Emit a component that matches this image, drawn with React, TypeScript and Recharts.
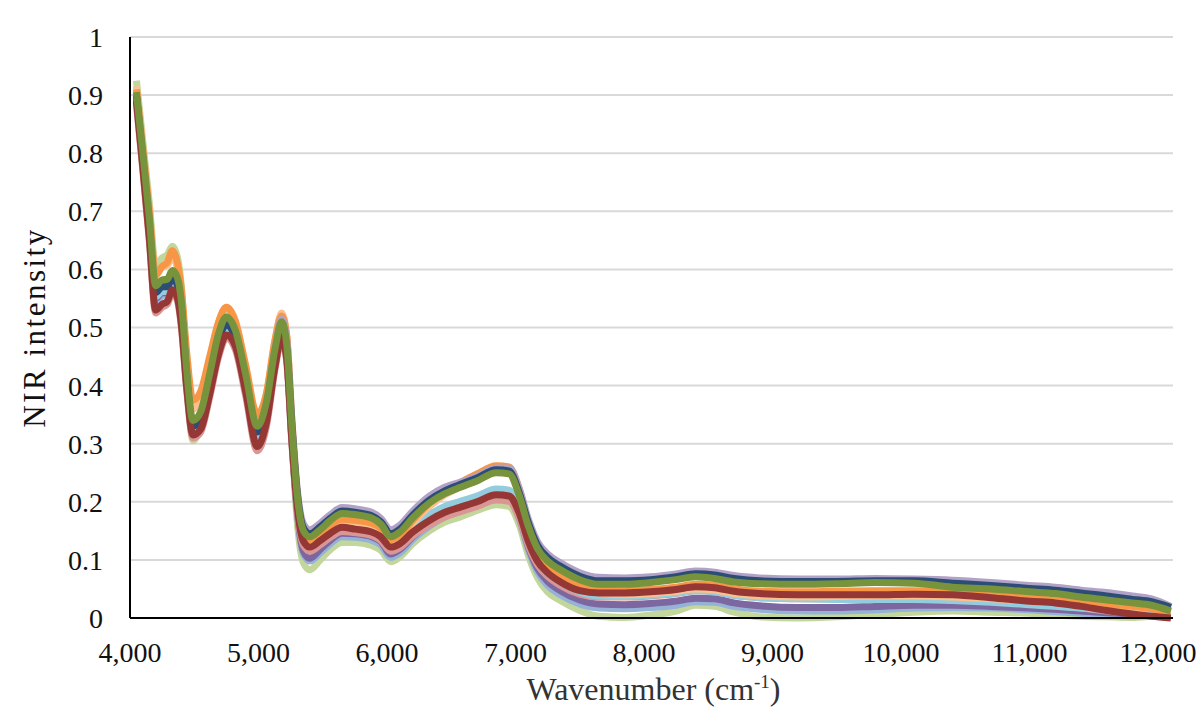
import { CartesianGrid, Label, Line, LineChart, XAxis, YAxis } from "recharts"

// wavenumber sampling points (cm-1)
const wavenumbers = [
    4050, 4100, 4150, 4200, 4250, 4290, 4330, 4370, 4400, 4440,
    4490, 4550, 4620, 4690, 4750, 4820, 4900, 4990, 5060, 5130,
    5180, 5220, 5260, 5300, 5350, 5400, 5480, 5560, 5650, 5750,
    5880, 5950, 6030, 6100, 6200, 6330, 6450, 6560, 6700, 6850,
    6950, 7030, 7100, 7170, 7250, 7350, 7500, 7650, 7850, 8050,
    8250, 8400, 8550, 8700, 8900, 9200, 9500, 9800, 10100, 10400,
    10700, 11000, 11200, 11400, 11600, 11800, 11950, 12100,
]

const lightGreen = [
    0.925, 0.82, 0.715, 0.605, 0.62, 0.625, 0.64, 0.62, 0.57, 0.43,
    0.305, 0.33, 0.41, 0.5, 0.53, 0.505, 0.41, 0.31, 0.36, 0.465,
    0.515, 0.465, 0.31, 0.17, 0.095, 0.083, 0.1, 0.118, 0.13, 0.13,
    0.125, 0.117, 0.097, 0.105, 0.128, 0.15, 0.165, 0.173, 0.185, 0.195,
    0.192, 0.16, 0.108, 0.07, 0.045, 0.03, 0.013, 0.003, 0.001, 0.005,
    0.012, 0.022, 0.02, 0.01, 0.002, 0.0, 0.002, 0.006, 0.01, 0.012,
    0.01, 0.008, 0.005, 0.003, 0.002, 0.001, 0.003, 0.005,
]

const skyBlue = [
    0.9, 0.79, 0.67, 0.545, 0.555, 0.557, 0.573, 0.56, 0.52, 0.405,
    0.32, 0.333, 0.397, 0.466, 0.494, 0.472, 0.397, 0.307, 0.347, 0.443,
    0.49, 0.45, 0.305, 0.185, 0.11, 0.098, 0.112, 0.128, 0.14, 0.139,
    0.134, 0.126, 0.104, 0.112, 0.135, 0.158, 0.174, 0.183, 0.195, 0.205,
    0.203, 0.17, 0.118, 0.08, 0.056, 0.04, 0.024, 0.017, 0.016, 0.018,
    0.022, 0.028, 0.027, 0.02, 0.015, 0.012, 0.012, 0.014, 0.017, 0.018,
    0.017, 0.014, 0.011, 0.008, 0.005, 0.004, 0.004, 0.004,
]

const darkPurple = [
    0.895, 0.785, 0.668, 0.55, 0.56, 0.56, 0.575, 0.56, 0.52, 0.41,
    0.325, 0.338, 0.4, 0.468, 0.495, 0.473, 0.4, 0.312, 0.35, 0.445,
    0.49, 0.45, 0.31, 0.19, 0.115, 0.103, 0.118, 0.134, 0.146, 0.145,
    0.14, 0.132, 0.11, 0.118, 0.14, 0.163, 0.179, 0.188, 0.2, 0.21,
    0.208, 0.175, 0.123, 0.086, 0.063, 0.047, 0.031, 0.024, 0.023, 0.025,
    0.029, 0.034, 0.033, 0.026, 0.021, 0.018, 0.018, 0.02, 0.022, 0.022,
    0.02, 0.017, 0.015, 0.012, 0.009, 0.007, 0.006, 0.005,
]

const pink = [
    0.885, 0.77, 0.65, 0.525, 0.535, 0.54, 0.56, 0.545, 0.5, 0.395,
    0.31, 0.32, 0.38, 0.45, 0.482, 0.462, 0.383, 0.288, 0.328, 0.43,
    0.478, 0.44, 0.3, 0.188, 0.125, 0.115, 0.126, 0.139, 0.149, 0.147,
    0.142, 0.134, 0.115, 0.121, 0.141, 0.16, 0.174, 0.182, 0.192, 0.203,
    0.201, 0.172, 0.125, 0.092, 0.072, 0.056, 0.041, 0.036, 0.036, 0.038,
    0.042, 0.047, 0.045, 0.039, 0.035, 0.033, 0.033, 0.033, 0.034, 0.033,
    0.029, 0.024, 0.021, 0.017, 0.012, 0.008, 0.005, 0.003,
]

const lightBlue = [
    0.895, 0.785, 0.67, 0.553, 0.562, 0.562, 0.578, 0.563, 0.522, 0.41,
    0.325, 0.338, 0.402, 0.47, 0.498, 0.477, 0.402, 0.312, 0.352, 0.448,
    0.495, 0.455, 0.318, 0.205, 0.142, 0.13, 0.142, 0.155, 0.165, 0.163,
    0.157, 0.149, 0.128, 0.135, 0.156, 0.178, 0.192, 0.2, 0.21, 0.222,
    0.22, 0.186, 0.135, 0.1, 0.078, 0.062, 0.045, 0.038, 0.037, 0.039,
    0.043, 0.047, 0.045, 0.039, 0.035, 0.033, 0.032, 0.032, 0.032, 0.03,
    0.027, 0.023, 0.02, 0.017, 0.014, 0.011, 0.009, 0.006,
]

const peach = [
    0.915, 0.81, 0.705, 0.595, 0.605, 0.607, 0.622, 0.6, 0.555, 0.445,
    0.36, 0.375, 0.44, 0.508, 0.535, 0.512, 0.43, 0.34, 0.382, 0.48,
    0.525, 0.485, 0.335, 0.21, 0.14, 0.128, 0.14, 0.153, 0.163, 0.162,
    0.157, 0.15, 0.128, 0.137, 0.163, 0.192, 0.212, 0.225, 0.24, 0.256,
    0.255, 0.215, 0.155, 0.11, 0.085, 0.066, 0.05, 0.043, 0.04, 0.042,
    0.046, 0.05, 0.048, 0.042, 0.038, 0.036, 0.037, 0.038, 0.038, 0.036,
    0.033, 0.03, 0.028, 0.025, 0.022, 0.018, 0.016, 0.012,
]

const orange = [
    0.91, 0.805, 0.7, 0.59, 0.605, 0.612, 0.632, 0.61, 0.565, 0.46,
    0.375, 0.39, 0.45, 0.51, 0.535, 0.51, 0.435, 0.35, 0.385, 0.48,
    0.52, 0.485, 0.34, 0.22, 0.148, 0.135, 0.147, 0.16, 0.17, 0.168,
    0.163, 0.155, 0.135, 0.143, 0.168, 0.198, 0.218, 0.232, 0.248, 0.262,
    0.26, 0.222, 0.165, 0.12, 0.092, 0.072, 0.055, 0.048, 0.047, 0.049,
    0.053, 0.058, 0.056, 0.05, 0.046, 0.045, 0.046, 0.047, 0.047, 0.044,
    0.04, 0.036, 0.033, 0.029, 0.024, 0.02, 0.016, 0.01,
]

const lavender = [
    0.9, 0.795, 0.685, 0.57, 0.578, 0.578, 0.592, 0.578, 0.54, 0.425,
    0.335, 0.35, 0.415, 0.485, 0.513, 0.49, 0.415, 0.325, 0.367, 0.465,
    0.515, 0.478, 0.34, 0.225, 0.162, 0.152, 0.163, 0.178, 0.19, 0.188,
    0.182, 0.172, 0.152, 0.16, 0.184, 0.21, 0.225, 0.233, 0.244, 0.258,
    0.258, 0.222, 0.17, 0.132, 0.11, 0.095, 0.078, 0.07, 0.069, 0.071,
    0.076, 0.081, 0.079, 0.073, 0.069, 0.067, 0.067, 0.068, 0.067, 0.065,
    0.061, 0.056, 0.053, 0.048, 0.044, 0.038, 0.033, 0.02,
]

const darkBlue = [
    0.9, 0.79, 0.675, 0.56, 0.57, 0.57, 0.585, 0.572, 0.532, 0.42,
    0.33, 0.345, 0.41, 0.478, 0.505, 0.483, 0.41, 0.32, 0.36, 0.455,
    0.5, 0.463, 0.33, 0.218, 0.155, 0.145, 0.157, 0.172, 0.184, 0.182,
    0.176, 0.166, 0.145, 0.153, 0.177, 0.203, 0.219, 0.229, 0.241, 0.255,
    0.253, 0.215, 0.164, 0.126, 0.104, 0.089, 0.072, 0.064, 0.064, 0.066,
    0.071, 0.076, 0.074, 0.068, 0.064, 0.063, 0.063, 0.064, 0.064, 0.06,
    0.056, 0.051, 0.048, 0.043, 0.038, 0.032, 0.028, 0.018,
]

const darkRed = [
    0.89, 0.775, 0.655, 0.53, 0.54, 0.545, 0.565, 0.55, 0.505, 0.4,
    0.315, 0.325, 0.385, 0.455, 0.487, 0.468, 0.39, 0.295, 0.335, 0.435,
    0.483, 0.445, 0.305, 0.195, 0.132, 0.122, 0.133, 0.146, 0.156, 0.153,
    0.148, 0.14, 0.122, 0.128, 0.148, 0.168, 0.182, 0.19, 0.2, 0.212,
    0.21, 0.18, 0.132, 0.098, 0.078, 0.062, 0.047, 0.043, 0.043, 0.045,
    0.049, 0.054, 0.052, 0.046, 0.042, 0.04, 0.04, 0.04, 0.041, 0.04,
    0.035, 0.029, 0.026, 0.02, 0.013, 0.007, 0.003, 0.0,
]

const green = [
    0.905, 0.8, 0.69, 0.572, 0.582, 0.583, 0.598, 0.585, 0.545, 0.43,
    0.34, 0.355, 0.42, 0.49, 0.518, 0.495, 0.42, 0.33, 0.37, 0.465,
    0.51, 0.47, 0.33, 0.215, 0.15, 0.14, 0.152, 0.168, 0.18, 0.178,
    0.172, 0.162, 0.14, 0.148, 0.172, 0.198, 0.214, 0.224, 0.236, 0.25,
    0.248, 0.21, 0.158, 0.12, 0.098, 0.083, 0.066, 0.058, 0.058, 0.061,
    0.066, 0.071, 0.068, 0.062, 0.059, 0.058, 0.059, 0.061, 0.06, 0.053,
    0.05, 0.045, 0.042, 0.036, 0.031, 0.026, 0.022, 0.012,
]

// drawn in this order, last one on top
const series = [
    { key: "s1", values: lightGreen, color: "#c3d69b" },
    { key: "s2", values: skyBlue, color: "#95b3d7" },
    { key: "s3", values: darkPurple, color: "#7d67a0" },
    { key: "s4", values: pink, color: "#d99694" },
    { key: "s5", values: lightBlue, color: "#93cddd" },
    { key: "s6", values: peach, color: "#fac090" },
    { key: "s7", values: orange, color: "#f79646" },
    { key: "s8", values: lavender, color: "#b3a2c7" },
    { key: "s9", values: darkBlue, color: "#2c4d75" },
    { key: "s10", values: darkRed, color: "#953735" },
    { key: "s11", values: green, color: "#77933c" },
]

const xTicks = [4000, 5000, 6000, 7000, 8000, 9000, 10000, 11000, 12000]
const yTicks = [0, 0.1, 0.2, 0.3, 0.4, 0.5, 0.6, 0.7, 0.8, 0.9, 1]

const data = wavenumbers.map((w, i) => {
    const row: Record<string, number> = { w }
    series.forEach((s) => {
        row[s.key] = s.values[i]
    })
    return row
})

const font = "'Times New Roman', Tinos, 'Liberation Serif', 'DejaVu Serif', serif"

export default function App() {
    return (
        <div style={{ width: 1196, height: 702, background: "#fff", fontFamily: font }}>
            <LineChart width={1196} height={702} data={data} margin={{ top: 29, right: 31, bottom: 32, left: 22 }}>
                <CartesianGrid vertical={false} stroke="#d9d9d9" strokeWidth={2} />
                <XAxis
                    dataKey="w"
                    type="number"
                    domain={[4000, 12117]}
                    ticks={xTicks}
                    tickFormatter={(v) => v.toLocaleString("en-US")}
                    axisLine={{ stroke: "#000", strokeWidth: 2 }}
                    tickLine={false}
                    tickSize={0}
                    tickMargin={24}
                    height={60}
                    interval={0}
                    tick={{ fontSize: 28, fill: "#111", style: { fontFamily: font } }}
                >
                    <Label
                        content={({ viewBox }: any) => (
                            <text
                                x={viewBox.x + viewBox.width / 2 + 2}
                                y={viewBox.y + 82}
                                textAnchor="middle"
                                style={{ fontFamily: font, fontSize: 32 }}
                                fill="#333"
                            >
                                Wavenumber (cm
                                <tspan fontSize={19} dy={-12}>-1</tspan>
                                <tspan dy={12}>)</tspan>
                            </text>
                        )}
                    />
                </XAxis>
                <YAxis
                    type="number"
                    domain={[0, 1]}
                    ticks={yTicks}
                    tickFormatter={(v) => String(Number(v.toFixed(1)))}
                    axisLine={{ stroke: "#000", strokeWidth: 2 }}
                    tickLine={false}
                    tickSize={0}
                    tickMargin={27}
                    width={100}
                    interval={0}
                    tick={{ fontSize: 28, fill: "#111", style: { fontFamily: font } }}
                >
                    <Label
                        content={({ viewBox }: any) => (
                            <text
                                x={viewBox.x + 4}
                                y={viewBox.y + viewBox.height / 2}
                                transform={`rotate(-90, ${viewBox.x + 4}, ${viewBox.y + viewBox.height / 2})`}
                                textAnchor="middle"
                                dominantBaseline="central"
                                style={{ fontFamily: font, fontSize: 31, letterSpacing: 2.5 }}
                                fill="#111"
                            >
                                NIR intensity
                            </text>
                        )}
                    />
                </YAxis>
                {series.map((s) => (
                    <Line
                        key={s.key}
                        dataKey={s.key}
                        type="monotone"
                        stroke={s.color}
                        strokeWidth={7}
                        dot={false}
                        activeDot={false}
                        isAnimationActive={false}
                    />
                ))}
            </LineChart>
        </div>
    )
}
